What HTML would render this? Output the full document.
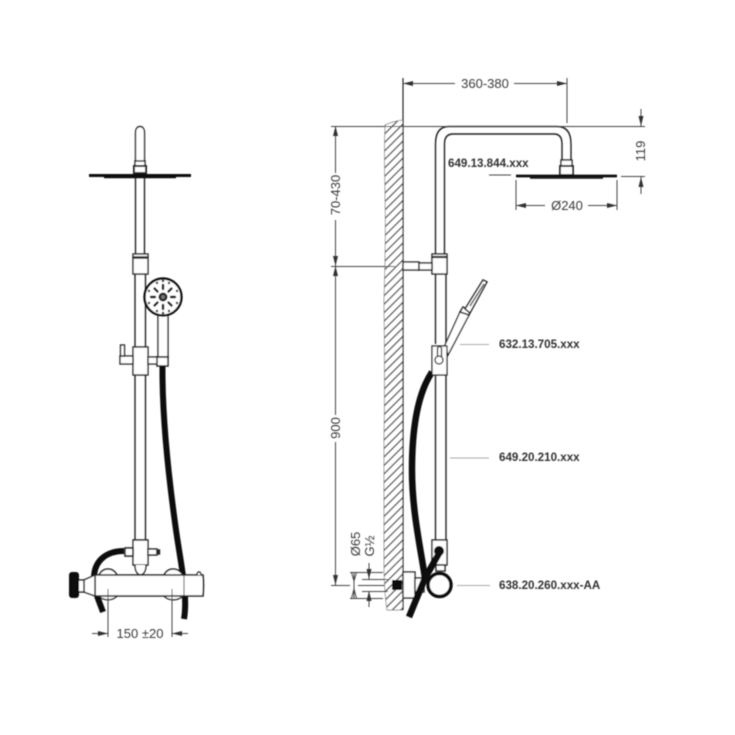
<!DOCTYPE html>
<html><head><meta charset="utf-8"><style>
html,body{margin:0;padding:0;background:#fff}
svg{display:block}
text{font-family:"Liberation Sans",sans-serif;fill:#3a3a3a}
.p{font-weight:bold;font-size:11.6px;fill:#333}
</style></head><body>
<svg width="735" height="735" viewBox="0 0 735 735" xmlns="http://www.w3.org/2000/svg">
<defs>
<pattern id="h" width="6" height="6" patternUnits="userSpaceOnUse" patternTransform="rotate(-45)">
<rect width="6" height="6" fill="#fff"/><rect y="0" width="6" height="1.300" fill="#444"/>
</pattern>
<marker id="a" viewBox="0 0 10 6" refX="10" refY="3" markerWidth="10" markerHeight="6" orient="auto-start-reverse" markerUnits="userSpaceOnUse"><path d="M0 .5L10 3L0 5.500z" fill="#333"/></marker>
<filter id="b"><feGaussianBlur stdDeviation="0.45"/></filter>
</defs>
<g filter="url(#b)">

<!-- LEFT VIEW -->
<g fill="#fff" stroke="#222" stroke-width="1.400">
<path d="M135.500 166V132a4.500 5.500 0 0 1 9 0V166"/>
<path d="M135.500 178V254M144.500 178V254" fill="none"/>
<path d="M135 274V347M145.500 274V347M135 375V540M145.500 375V540" fill="none"/>
<rect x="133" y="254" width="15" height="20"/>
<path d="M133 257.500H148" stroke-width="2.500"/>
<rect x="135" y="161" width="10" height="5"/>
<rect x="134" y="166" width="12" height="7" stroke-width="2"/>
</g>
<path d="M89 175.500H191" stroke="#111" stroke-width="3"/>
<path d="M104 177.500H176" stroke="#111" stroke-width="1.500"/>

<!-- left clamp -->
<g fill="#fff" stroke="#222" stroke-width="1.400">
<rect x="133" y="347" width="15" height="28"/>
<rect x="120" y="356" width="13" height="8"/>
<rect x="120.500" y="345" width="4" height="11"/>
<rect x="148" y="357" width="10" height="7"/>
</g>
<!-- hand shower front -->
<path d="M158 315H168V357H158Z" fill="#fff" stroke="#222" stroke-width="1.400"/>
<rect x="157" y="357" width="11" height="9" fill="#fff" stroke="#222" stroke-width="1.500"/>
<circle cx="163" cy="297" r="18.500" fill="#fff" stroke="#111" stroke-width="2.400"/>
<circle cx="163" cy="297" r="4.500" fill="#222"/>
<circle cx="163" cy="297" r="2" fill="#777"/>
<g stroke="#111" stroke-width="2.400" stroke-linecap="round">
<path d="M163 285V289M163 305V309M151 297H155M171 297H175M154.500 288.500L157.500 291.500M168.500 302.500L171.500 305.500M171.500 288.500L168.500 291.500M157.500 302.500L154.500 305.500"/>
</g>
<g fill="#111">
<circle cx="157" cy="283" r="1.200"/><circle cx="169" cy="283" r="1.200"/><circle cx="149" cy="291" r="1.200"/><circle cx="177" cy="291" r="1.200"/><circle cx="149" cy="303" r="1.200"/><circle cx="177" cy="303" r="1.200"/><circle cx="157" cy="311" r="1.200"/><circle cx="169" cy="311" r="1.200"/><circle cx="163" cy="281" r="1.200"/><circle cx="163" cy="313" r="1.200"/>
</g>
<!-- left hose -->
<path d="M162.500 366C162 420 169 480 176 530C181 565 188 595 184 619" fill="none" stroke="#111" stroke-width="6"/>
<path d="M124 551C105 551 94 562 94 578" fill="none" stroke="#111" stroke-width="6"/>
<path d="M97 596L103 612" stroke="#111" stroke-width="6" fill="none"/>
<!-- T and body -->
<g fill="#fff" stroke="#222" stroke-width="1.400">
<path d="M133 540H148V565H133Z"/>
<path d="M135 565C135 578 146 578 146 565"/>
<rect x="125" y="548" width="8" height="8" stroke-width="1.600"/>
<path d="M148 549H157V555H148Z"/>
<rect x="157" y="550" width="2.500" height="4" fill="#222"/>
<path d="M99 575C103 567 113 567 117 575M164 575C168 567 178 567 183 575"/>
<path d="M99 596C103 601 113 601 117 596M164 596C168 601 178 601 183 596"/>
<path d="M95 575H203Q204 585 203 596H95Z" stroke-width="1.600"/>
<path d="M184 575V596" stroke="#111" stroke-width="1"/>
<path d="M197 575C197 571 201 571 201 575"/>
<path d="M95 575L84 580V592L95 596Z"/>
<path d="M78 580H84V592H78Z"/>
</g>
<rect x="69" y="572" width="10" height="26" rx="3" fill="#111"/>
<!-- left dim -->
<g stroke="#444" stroke-width="1" fill="none">
<path d="M108 589V637M172 589V637"/>
<path d="M92 633.500H108" marker-end="url(#a)"/>
<path d="M188 633.500H172" marker-end="url(#a)"/>
</g>
<text x="140" y="638" text-anchor="middle" font-size="13">150 ±20</text>

<!-- RIGHT VIEW: wall -->
<path d="M385 125Q394 121 403 120V610H387Q384 590 384 560Q384 500 384 440Q385 380 384 300Q386 240 385 190Q384 155 385 125Z" fill="url(#h)" stroke="#777" stroke-width="0.700"/>
<path d="M403 78V610" stroke="#222" stroke-width="1.200"/>

<!-- pipe -->
<g fill="none" stroke="#222" stroke-width="1.400">
<path d="M435.500 254V144Q435.500 126.500 449 126.500H557Q571 126.500 571 144V160"/>
<path d="M444.500 254V144Q444.500 134 453 134H554Q562 134 562 144V160"/>
<path d="M435.500 274V344M446 274V344M435.500 375V540M446 375V540"/>
</g>
<g fill="#fff" stroke="#222" stroke-width="1.400">
<rect x="432" y="254" width="15" height="20"/>
<path d="M432 257H447" stroke-width="2.200"/>
<rect x="403" y="262" width="16" height="8"/>
<rect x="419" y="263" width="13" height="7"/>
<rect x="561" y="160" width="11" height="6"/>
<rect x="560" y="166" width="13" height="9" stroke-width="1.800"/>
</g>
<path d="M516 176H617" stroke="#111" stroke-width="2.800"/>
<path d="M530 178H603" stroke="#111" stroke-width="1.500"/>

<!-- right hand shower -->
<path d="M432 372C420 390 412 420 412 470C412 510 420 545 425 578" fill="none" stroke="#111" stroke-width="6.500"/>
<g fill="#fff" stroke="#222" stroke-width="1.300">
<path d="M445 345L460 312L469 315L448 355Z"/>
<path d="M460 312L463 307L470 311L469 315Z" stroke-width="1.500"/>
<path d="M465 309L483 280L487 282L470 313Z" stroke-width="1.500"/>
<rect x="432" y="346" width="15" height="29"/>
<path d="M437.500 360V348Q439.500 345 441.500 348V360"/>
<circle cx="439" cy="360" r="4"/>
</g>
<path d="M470 306L484 284" stroke="#222" stroke-width="1.200"/>

<!-- lower connection -->
<g fill="#fff" stroke="#222" stroke-width="1.400">
<rect x="432" y="540" width="15" height="25"/>
<rect x="436" y="565" width="9" height="6" stroke-width="1.500"/>
<rect x="403" y="572" width="12" height="26"/>
<rect x="415" y="578" width="9" height="14"/>
</g>
<rect x="392" y="580" width="10" height="10" fill="#111"/>
<path d="M441 550L425 578L409 617" fill="none" stroke="#111" stroke-width="6.500"/>
<circle cx="439" cy="551" r="5" fill="#111"/>
<circle cx="439.500" cy="585" r="11.500" fill="#fff" stroke="#111" stroke-width="3.500"/>

<!-- dims right -->
<g stroke="#444" stroke-width="1" fill="none">
<path d="M331 126.500H645"/>
<path d="M567 78V123"/>
<path d="M403 83.500H455" marker-start="url(#a)"/>
<path d="M514 83.500H567" marker-end="url(#a)"/>
<path d="M641 109V126" marker-end="url(#a)"/>
<path d="M641 194V177" marker-end="url(#a)"/>
<path d="M621 176.500H645"/>
<path d="M516 180V210M617 180V210"/>
<path d="M516 205.500H545" marker-start="url(#a)"/>
<path d="M588 205.500H617" marker-end="url(#a)"/>
<path d="M489 175H511"/>
<path d="M335.500 126V173" marker-start="url(#a)"/>
<path d="M335.500 220V266" marker-end="url(#a)"/>
<path d="M331 266.500H395"/>
<path d="M335.500 266V415" marker-start="url(#a)"/>
<path d="M335.500 442V585" marker-end="url(#a)"/>
<path d="M331 585.500H350"/>
<path d="M354 572V598"/>
<path d="M350 572.500H383M350 598.500H383"/>
<path d="M354 581L351.500 572.500M354 581L356.500 572.500M354 589L351.500 598.500M354 589L356.500 598.500"/>
<path d="M369 563V579" marker-end="url(#a)"/>
<path d="M369 607V591" marker-end="url(#a)"/>
<path d="M362 579.500H388M362 591.500H388"/>
<path d="M358 585.500H385"/>
</g>
<g stroke="#aaa" stroke-width="1" fill="none">
<path d="M460 344.500H489M450 458H489M457 585.500H490"/>
</g>
<text x="485" y="88" text-anchor="middle" font-size="13">360-380</text>
<text x="567" y="210" text-anchor="middle" font-size="13">Ø240</text>
<text transform="translate(645,151) rotate(-90)" text-anchor="middle" font-size="13">119</text>
<text transform="translate(340,195) rotate(-90)" text-anchor="middle" font-size="13">70-430</text>
<text transform="translate(340,428) rotate(-90)" text-anchor="middle" font-size="13">900</text>
<text transform="translate(360,544) rotate(-90)" text-anchor="middle" font-size="13">Ø65</text>
<text transform="translate(374,546) rotate(-90)" text-anchor="middle" font-size="13">G½</text>
<text class="p" x="448" y="167">649.13.844.xxx</text>
<text class="p" x="499" y="348">632.13.705.xxx</text>
<text class="p" x="499" y="461">649.20.210.xxx</text>
<text class="p" x="499" y="589">638.20.260.xxx-AA</text>
</g>
</svg>
</body></html>
